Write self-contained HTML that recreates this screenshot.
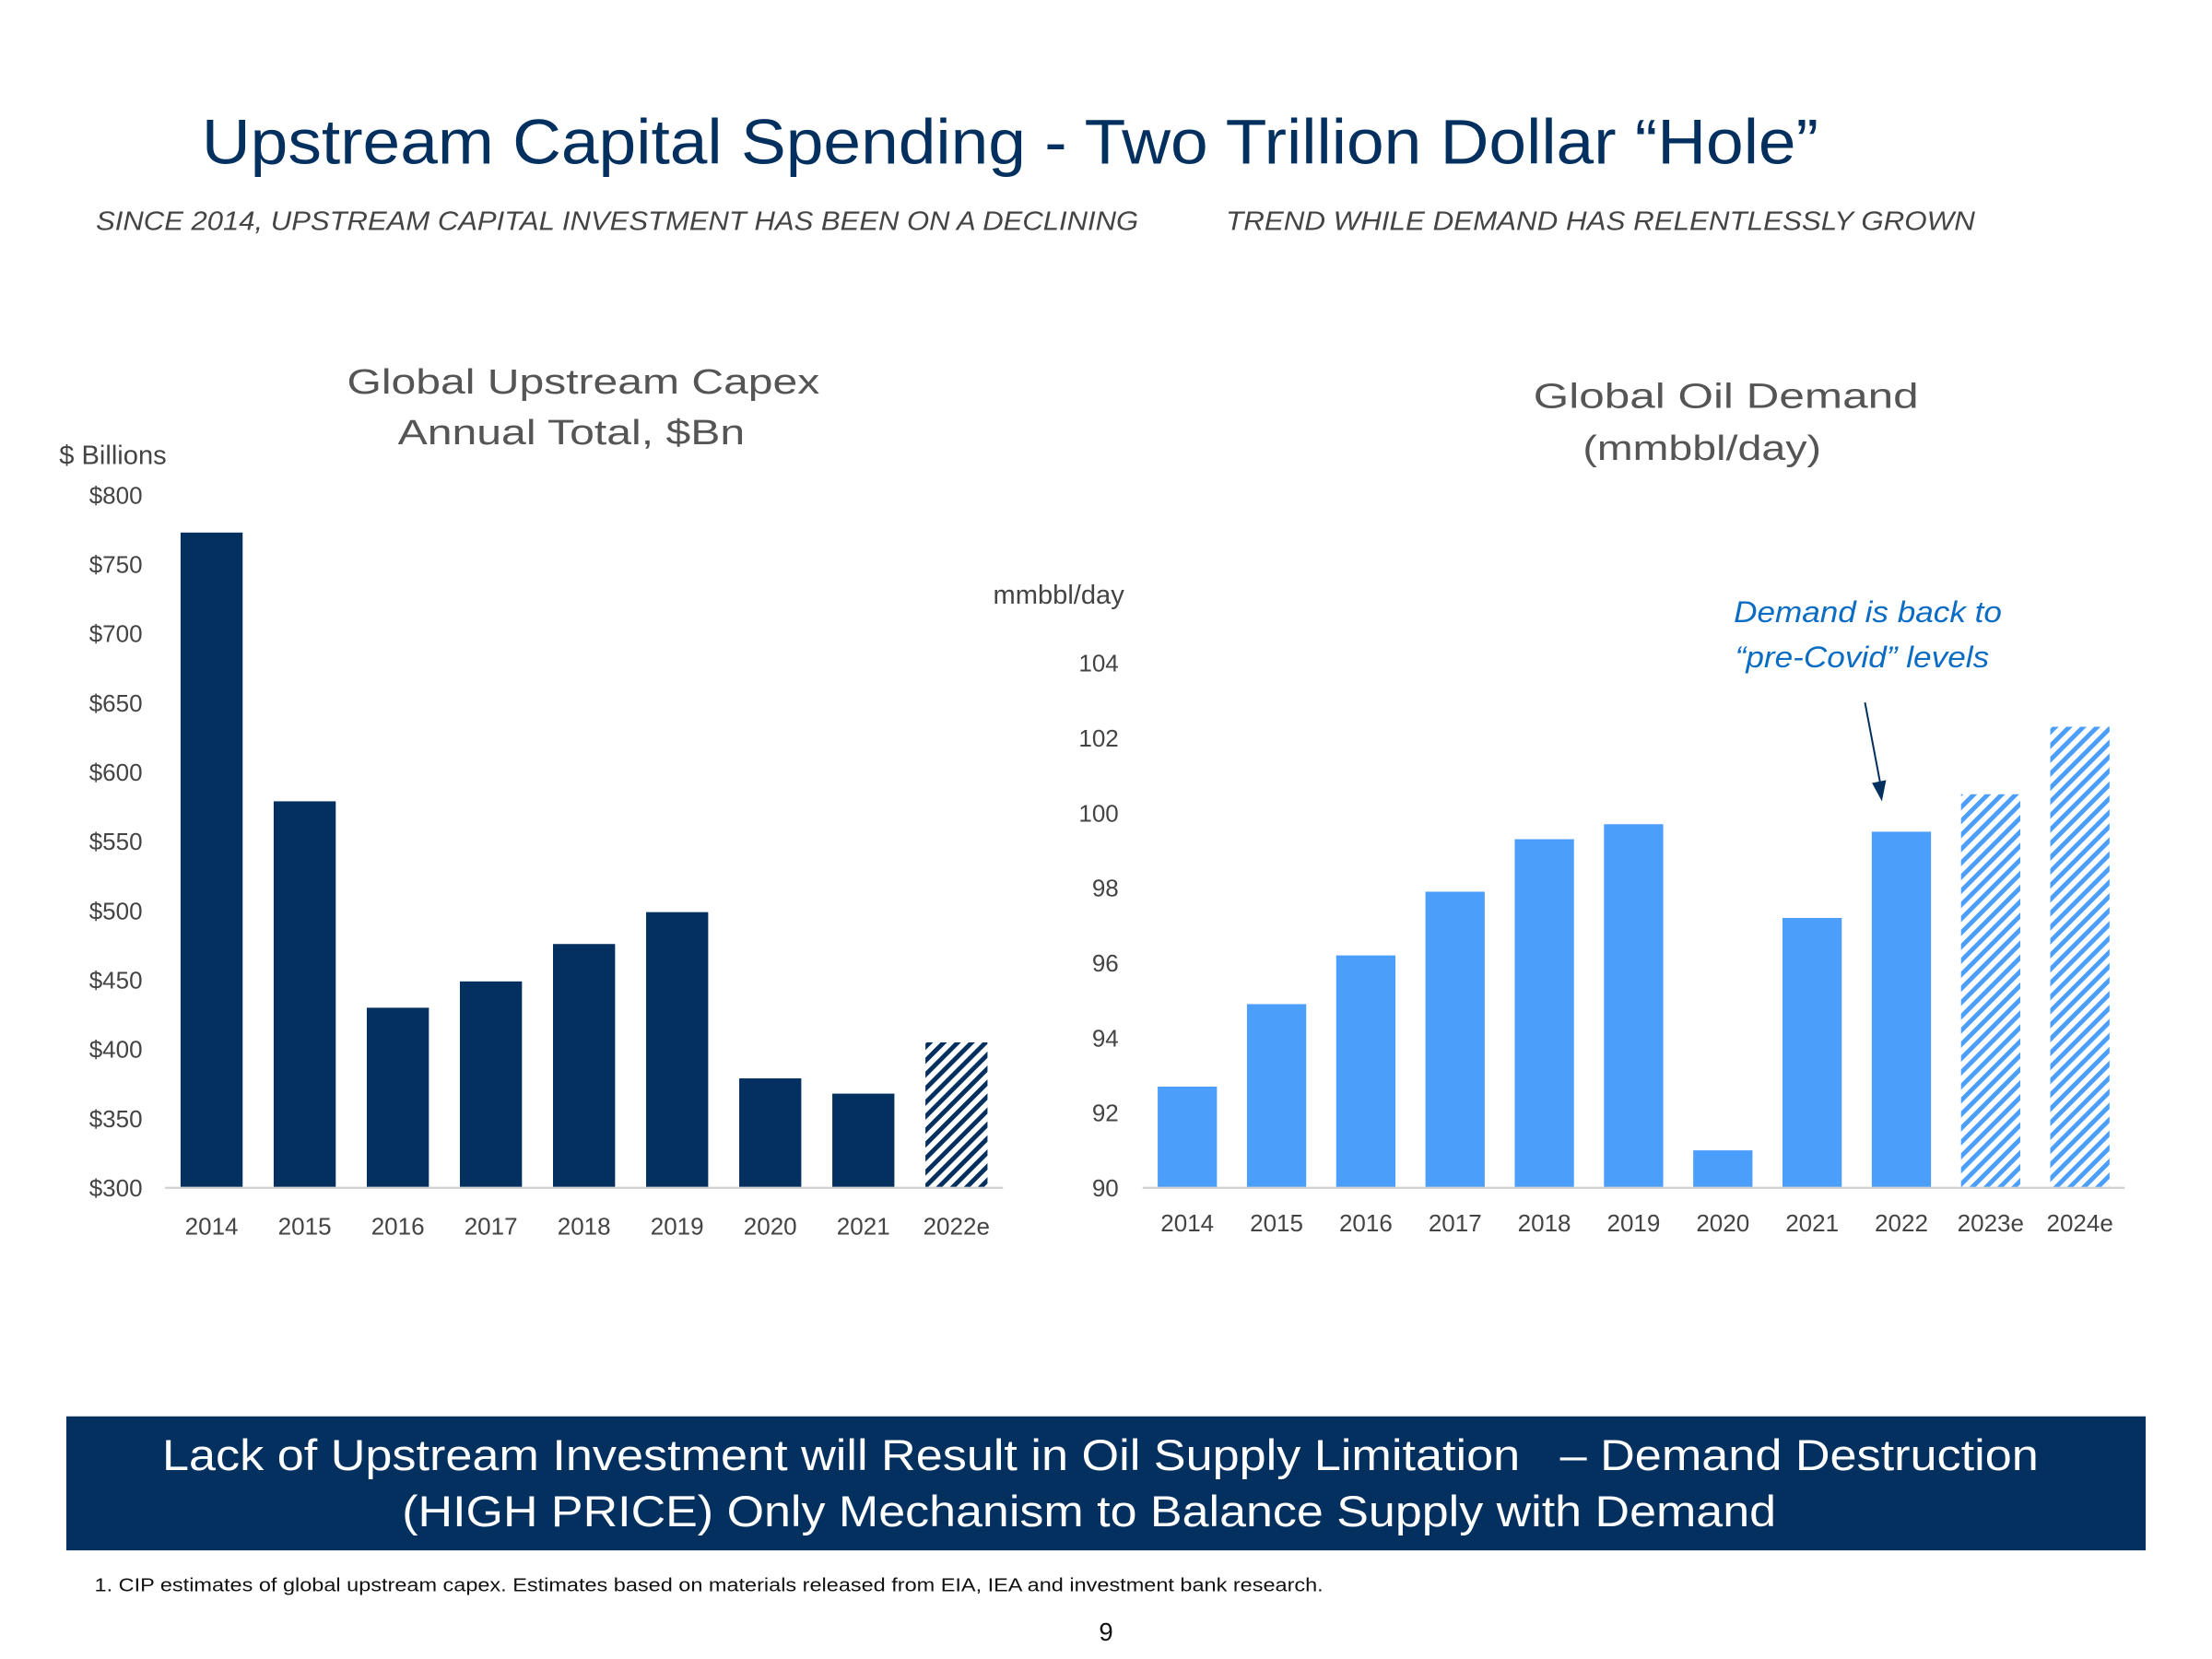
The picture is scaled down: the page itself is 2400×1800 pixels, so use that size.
<!DOCTYPE html>
<html><head><meta charset="utf-8">
<style>
html,body{margin:0;padding:0;background:#fff;}
svg{display:block;font-family:"Liberation Sans",sans-serif;}
</style></head>
<body>
<svg id="s" width="2400" height="1800" viewBox="0 0 1568 1176" xmlns="http://www.w3.org/2000/svg">
<defs>
<pattern id="hatchDark" patternUnits="userSpaceOnUse" width="7" height="7" patternTransform="rotate(45)">
<rect width="7" height="7" fill="#fff"/><rect x="0" y="0" width="3.2" height="7" fill="#04305f"/>
</pattern>
<pattern id="hatchLight" patternUnits="userSpaceOnUse" width="7" height="7" patternTransform="rotate(45)">
<rect width="7" height="7" fill="#fff"/><rect x="0" y="0" width="3.2" height="7" fill="#4b9efa"/>
</pattern>
</defs>
<text x="143" y="116" textLength="1146" lengthAdjust="spacingAndGlyphs" font-size="45" fill="#03305f">Upstream Capital Spending  - Two Trillion Dollar “Hole”</text>
<text x="68" y="163" textLength="739" lengthAdjust="spacingAndGlyphs" font-size="18.5" font-style="italic" fill="#444">SINCE 2014, UPSTREAM CAPITAL INVESTMENT HAS BEEN ON A DECLINING</text>
<text x="869" y="163" textLength="531" lengthAdjust="spacingAndGlyphs" font-size="18.5" font-style="italic" fill="#444">TREND WHILE DEMAND HAS RELENTLESSLY GROWN</text>

<g id="left">
<text x="246" y="279" textLength="335" lengthAdjust="spacingAndGlyphs" font-size="25" fill="#555">Global Upstream Capex</text>
<text x="282" y="315" textLength="246" lengthAdjust="spacingAndGlyphs" font-size="25" fill="#555">Annual Total, $Bn</text>
<text x="42" y="329" font-size="19" fill="#444">$ Billions</text>
</g>
<g id="right">
<text x="1087" y="289" textLength="273" lengthAdjust="spacingAndGlyphs" font-size="25" fill="#555">Global Oil Demand</text>
<text x="1122" y="326" textLength="169" lengthAdjust="spacingAndGlyphs" font-size="25" fill="#555">(mmbbl/day)</text>
<text x="704" y="428" font-size="19" fill="#444">mmbbl/day</text>
<text x="1229" y="441" textLength="190" lengthAdjust="spacingAndGlyphs" font-size="21" font-style="italic" fill="#0b6cc4">Demand is back to</text>
<text x="1230" y="473" textLength="180" lengthAdjust="spacingAndGlyphs" font-size="21" font-style="italic" fill="#0b6cc4">“pre-Covid” levels</text>
<line x1="1322" y1="498" x2="1333" y2="556" stroke="#04305f" stroke-width="1.3"/>
<polygon points="1327,555 1337,553 1334,568" fill="#04305f"/>
</g>

<rect x="47" y="1004" width="1474" height="95" fill="#03305f"/>
<text x="115" y="1042" textLength="1330" lengthAdjust="spacingAndGlyphs" font-size="31" fill="#fff" xml:space="preserve">Lack of Upstream Investment will Result in Oil Supply Limitation   – Demand Destruction</text>
<text x="285" y="1082" textLength="974" lengthAdjust="spacingAndGlyphs" font-size="31" fill="#fff">(HIGH PRICE) Only Mechanism to Balance Supply with Demand</text>
<text x="67" y="1128" textLength="871" lengthAdjust="spacingAndGlyphs" font-size="13" fill="#111">1. CIP estimates of global upstream capex. Estimates based on materials released from EIA, IEA and investment bank research.</text>
<text x="784" y="1163" text-anchor="middle" font-size="18" fill="#111">9</text>
</svg>
<script>
const capexYears = ["2014","2015","2016","2017","2018","2019","2020","2021","2022e"];
const capexValues = [773,579,430,449,476,499,379,368,405];
const capexEstimate = [false,false,false,false,false,false,false,false,true];
const capexTicks = [300,350,400,450,500,550,600,650,700,750,800];

const demandYears = ["2014","2015","2016","2017","2018","2019","2020","2021","2022","2023e","2024e"];
const demandValues = [92.7,94.9,96.2,97.9,99.3,99.7,91.0,97.2,99.5,100.5,102.3];
const demandEstimate = [false,false,false,false,false,false,false,false,false,true,true];
const demandTicks = [90,92,94,96,98,100,102,104];

const NS="http://www.w3.org/2000/svg";
function mk(parent,tag,attrs,text){const e=document.createElementNS(NS,tag);for(const k in attrs)e.setAttribute(k,attrs[k]);if(text!=null)e.textContent=text;parent.appendChild(e);return e;}

const L={x0:117,x1:711,yBase:842,yTop:351,vMin:300,vMax:800,barW:44};
function lx(i){return L.x0+(L.x1-L.x0)*(i+0.5)/capexYears.length;}
function ly(v){return L.yBase-(v-L.vMin)/(L.vMax-L.vMin)*(L.yBase-L.yTop);}
const left=document.getElementById('left');
capexTicks.forEach(t=>{
  const e=mk(left,'text',{x:101,y:ly(t)+6,'text-anchor':'end','font-size':17,fill:'#444'},'$'+t);
  
  
});
capexValues.forEach((v,i)=>{
  const r=mk(left,'rect',{x:lx(i)-L.barW/2,y:ly(v),width:L.barW,height:ly(L.vMin)-ly(v),fill:capexEstimate[i]?'url(#hatchDark)':'#04305f'});
  
  
  const t=mk(left,'text',{x:lx(i),y:875,'text-anchor':'middle','font-size':17,fill:'#444'},capexYears[i]);
  
  
});
const la=mk(left,'line',{x1:L.x0,x2:L.x1,y1:L.yBase,y2:L.yBase,stroke:'#d0d0d0','stroke-width':1.5});



const R={x0:810,x1:1506,yBase:842,yTop:470,vMin:90,vMax:104,barW:42};
function rx(i){return R.x0+(R.x1-R.x0)*(i+0.5)/demandYears.length;}
function ry(v){return R.yBase-(v-R.vMin)/(R.vMax-R.vMin)*(R.yBase-R.yTop);}
const right=document.getElementById('right');
demandTicks.forEach(t=>{
  const e=mk(right,'text',{x:793,y:ry(t)+6,'text-anchor':'end','font-size':17,fill:'#444'},String(t));
  
  
});
demandValues.forEach((v,i)=>{
  const r=mk(right,'rect',{x:rx(i)-R.barW/2,y:ry(v),width:R.barW,height:ry(R.vMin)-ry(v),fill:demandEstimate[i]?'url(#hatchLight)':'#4b9efa'});
  
  
  const t=mk(right,'text',{x:rx(i),y:873,'text-anchor':'middle','font-size':17,fill:'#444'},demandYears[i]);
  
  
});
const ra=mk(right,'line',{x1:R.x0,x2:R.x1,y1:R.yBase,y2:R.yBase,stroke:'#d0d0d0','stroke-width':1.5});


</script>
</body></html>
